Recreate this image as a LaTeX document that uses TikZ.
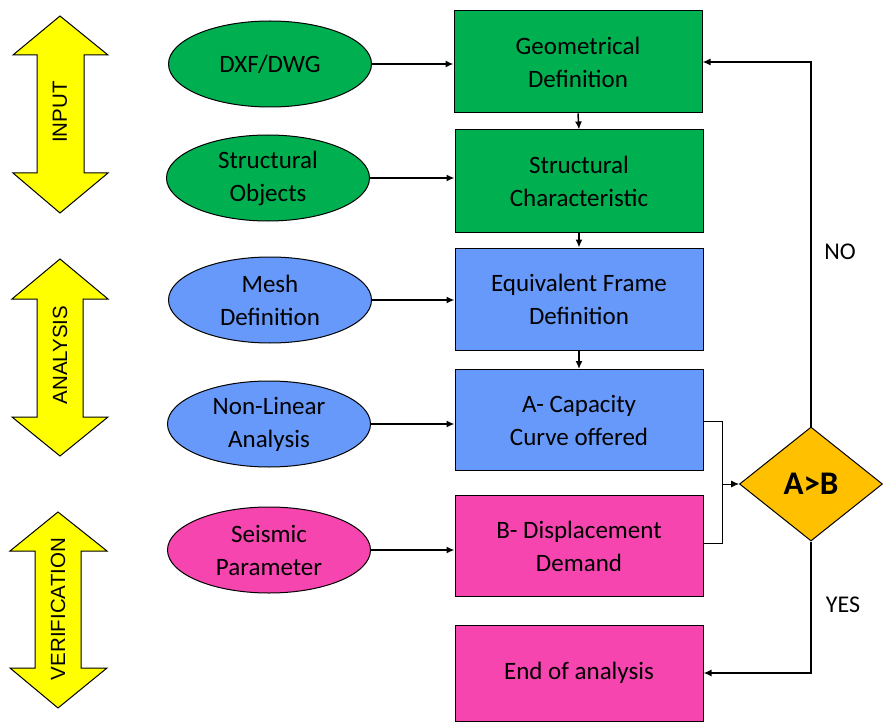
\documentclass[tikz,border=0pt]{standalone}
\usepackage{fontspec}
\setmainfont{Carlito}
\newfontfamily\arialfont{Liberation Sans}
\usetikzlibrary{shapes.geometric,arrows.meta}
\definecolor{cgreen}{RGB}{0,176,80}
\definecolor{cblue}{RGB}{102,153,250}
\definecolor{cpink}{RGB}{247,69,176}
\definecolor{cyel}{RGB}{255,255,0}
\definecolor{corange}{RGB}{255,192,0}
\tikzset{
  ell/.style={ellipse,draw=black,line width=1pt,minimum width=203pt,minimum height=86pt,inner sep=0pt,align=center,font=\fontsize{25}{33}\selectfont},
  procbox/.style={rectangle,draw=black,line width=1pt,minimum width=248pt,minimum height=102pt,inner sep=0pt,align=center,font=\fontsize{25}{33}\selectfont},
  arr/.style={line width=1.5pt,-{Latex[length=8pt,width=7pt]}},
  thinarr/.style={line width=0.9pt,-{Latex[length=8pt,width=7pt]}},
  dblarr/.style={fill=cyel,draw=black,line width=1pt},
  sidelab/.style={rotate=90,font=\arialfont\fontsize{20.5}{24}\selectfont},
  yn/.style={font=\fontsize{24}{28}\selectfont}
}
\begin{document}
\begin{tikzpicture}[x=1pt,y=-1pt]
\useasboundingbox (0,0) rectangle (883,722);
% side double arrows
\draw[dblarr] (60,16) -- (108,55) -- (84,55) -- (84,173) -- (108,173) -- (60,213) -- (13,173) -- (37,173) -- (37,55) -- (13,55) -- cycle;
\node[sidelab] (input) at (60,112) {INPUT};
\draw[dblarr] (60,259) -- (108,299) -- (83,299) -- (83,417) -- (108,417) -- (60,456) -- (12,417) -- (37,417) -- (37,299) -- (12,299) -- cycle;
\node[sidelab] (analysis) at (60,355) {ANALYSIS};
\draw[dblarr] (58,512) -- (107,551) -- (81,551) -- (81,668) -- (107,668) -- (58,708) -- (10,668) -- (35,668) -- (35,551) -- (10,551) -- cycle;
\node[sidelab] (verif) at (58,609) {VERIFICATION};
% ellipses
\node[ell,fill=cgreen] (e1) at (270,64) {DXF/DWG};
\node[ell,fill=cgreen] (e2) at (268,178) {Structural\\Objects};
\node[ell,fill=cblue] (e3) at (270,300) {Mesh\\Definition};
\node[ell,fill=cblue] (e4) at (269,424) {Non-Linear\\Analysis};
\node[ell,fill=cpink] (e5) at (269,550) {Seismic\\Parameter};
% boxes
\node[procbox,fill=cgreen] (b1) at (578,62) {Geometrical\\Definition};
\node[procbox,fill=cgreen] (b2) at (579,181) {Structural\\Characteristic};
\node[procbox,fill=cblue] (b3) at (579,299) {Equivalent Frame\\Definition};
\node[procbox,fill=cblue,minimum height=101pt] (b4) at (579,420) {A- Capacity\\Curve offered};
\node[procbox,fill=cpink,minimum height=101pt] (b5) at (579,546) {B- Displacement\\Demand};
\node[procbox,fill=cpink,minimum height=96pt] (b6) at (579,673) {End of analysis};
% diamond
\node[diamond,draw=black,line width=1pt,fill=corange,minimum width=143pt,minimum height=114pt,inner sep=0pt,aspect=1.25,font=\bfseries\fontsize{33}{36}\selectfont] (d) at (811,484) {A>B};
% connectors
\draw[arr] (e1.east) -- (b1.west |- e1.east);
\draw[arr] (e2.east) -- (b2.west |- e2.east);
\draw[arr] (e3.east) -- (b3.west |- e3.east);
\draw[arr] (e4.east) -- (b4.west |- e4.east);
\draw[arr] (e5.east) -- (b5.west |- e5.east);
\draw[arr] (b1.south) -- (b2.north);
\draw[arr] (b2.south) -- (b3.north);
\draw[arr] (b3.south) -- (b4.north);
\coordinate (j) at (722,484);
\draw[line width=0.9pt] (b4.east |- 0,421) -| (j);
\draw[line width=0.9pt] (b5.east |- 0,543) -| (j);
\draw[thinarr] (j) -- (d.west);
\draw[arr] (d.north) |- (b1.east);
\draw[arr] (d.south) |- (b6.east);
\node[yn] (no) at (840,252) {NO};
\node[yn] (yes) at (843,605) {YES};
\end{tikzpicture}
\end{document}
